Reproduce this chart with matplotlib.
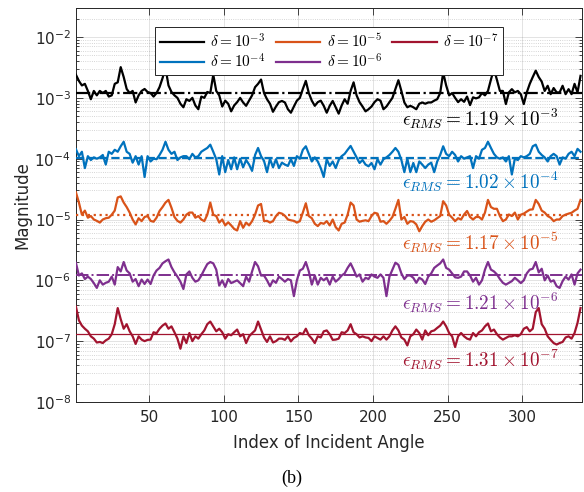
import numpy as np
import matplotlib
matplotlib.use("Agg")
import matplotlib.pyplot as plt
from matplotlib.ticker import LogLocator, NullFormatter, FixedLocator

plt.rcParams['mathtext.fontset'] = 'cm'
plt.rcParams['font.family'] = ['DejaVu Sans']

# ---------------- data ----------------
index = list(range(1, 340, 2))          # incident-angle index (sampled)
deltas = [1e-3, 1e-4, 1e-5, 1e-6, 1e-7]
legend_labels = [r'$\delta = 10^{-3}$', r'$\delta = 10^{-4}$', r'$\delta = 10^{-5}$',
                 r'$\delta = 10^{-6}$', r'$\delta = 10^{-7}$']
rms_values = [1.19e-3, 1.02e-4, 1.17e-5, 1.21e-6, 1.31e-7]
rms_labels = [r'$\epsilon_{RMS} = 1.19\times10^{-3}$', r'$\epsilon_{RMS} = 1.02\times10^{-4}$',
              r'$\epsilon_{RMS} = 1.17\times10^{-5}$', r'$\epsilon_{RMS} = 1.21\times10^{-6}$',
              r'$\epsilon_{RMS} = 1.31\times10^{-7}$']

# magnitudes, expressed in units of the corresponding delta
mag_d3 = [2.4, 1.9, 1.6, 1.7, 1.3, 0.95, 1.3, 1.1, 1.3, 1.2, 1.3, 1.05, 1.1, 1.7, 1.8, 3.2, 2.2, 1.4, 1.2, 1.3,
          0.84, 1.1, 1.3, 1.4, 1.25, 1.2, 1.05, 1.2, 1.5, 2.1, 3.1, 1.6, 1.25, 1.1, 1.0, 0.8, 0.7, 0.95, 0.89, 1.0,
          0.75, 0.65, 1.05, 1.0, 1.25,
          1.2, 2.4, 1.3, 1.1, 0.72, 0.9, 0.8, 0.6, 0.75, 0.85, 1.0, 0.84, 0.74, 0.9, 1.1, 1.5, 1.7, 2.0, 1.2, 0.95,
          0.8, 0.59, 0.72, 0.85, 0.89, 0.84, 0.65, 0.57, 0.72, 0.9, 1.0, 1.4, 1.9, 1.2, 0.9, 0.74, 0.85, 0.9, 0.74,
          0.57, 0.74, 0.89, 0.7, 0.55, 0.75, 0.95, 0.8,
          1.3, 1.8, 1.1, 0.85, 0.72, 0.6, 0.65, 0.72, 0.85, 0.95, 0.9, 0.65, 0.72, 0.85, 1.0, 1.4, 1.95, 1.3, 0.84,
          0.7, 0.74, 0.7, 0.65, 0.8, 0.84, 0.8, 0.84, 0.84, 0.9, 0.95, 1.2, 2.6, 1.6, 1.1, 1.2, 1.0, 0.85,
          0.95, 0.86, 1.05, 0.76, 1.02, 0.98, 1.02, 1.2, 1.1, 1.3, 2.0, 3.0, 1.98, 1.3, 1.3, 0.79, 1.23, 1.39, 1.23,
          1.3, 1.15, 0.79, 1.23, 1.7, 2.2, 2.8, 2.2, 1.85, 1.3, 1.58, 1.15, 1.45, 1.23, 1.23, 1.58, 1.15, 1.39,
          1.15, 1.7, 1.23, 2.3]

mag_d4 = [1.43, 1.1, 1.3, 0.7, 1.1, 0.95, 1.05, 1.0, 1.05, 1.15,
          0.8, 1.3, 1.2, 1.4, 1.3, 1.6, 1.9, 1.3, 1.2, 0.86,
          1.1, 0.8, 1.1, 0.5, 1.1, 0.9, 1.0, 0.98, 1.15, 1.4,
          1.9, 1.4, 1.2, 1.3, 0.95, 1.05, 1.1, 1.1, 0.98, 1.2,
          1.05, 1.1, 1.3, 1.4, 1.5, 1.7, 1.3, 0.98, 0.55, 1.1,
          0.6, 0.95, 0.67, 1.05, 0.67, 1.0, 0.72, 0.95, 0.8, 0.63,
          1.15, 1.5, 1.1, 0.92, 0.6, 1.0, 0.72, 0.98, 0.7, 0.86,
          0.8, 0.76, 0.98, 0.76, 1.1, 1.0,
          1.4, 1.6, 1.2, 0.9, 1.05, 0.9, 0.7, 0.5, 0.98, 0.76,
          0.9, 0.7, 0.95, 1.1, 1.2, 1.4, 1.62, 1.3, 1.05, 0.85,
          0.95, 0.8, 0.75, 0.85, 0.67, 0.98, 0.8, 0.98, 1.05, 1.15,
          1.3, 1.5, 1.3, 0.95, 0.6, 1.0, 0.6, 0.85, 0.6, 0.9,
          0.8, 0.7, 0.8, 0.86, 0.6, 0.9, 1.15, 1.6, 1.2, 1.1,
          1.3, 1.15, 0.9, 1.1, 1.0, 1.05, 1.1, 0.7, 1.1, 1.0,
          1.4, 1.5, 1.9, 1.5, 1.2, 1.05, 1.0, 1.05, 0.9, 1.1,
          0.55, 1.0, 0.95, 1.1, 1.05, 1.1, 1.2, 1.6, 1.7, 1.3,
          1.15, 1.05, 0.9, 1.1, 1.2, 1.1, 0.8, 1.05, 1.0, 1.2,
          1.3, 1.1, 1.45, 1.3]

mag_d5 = [2.8, 1.9, 1.2, 1.4, 1.07, 1.14, 1.0, 0.95, 0.89, 1.0,
          1.05, 1.07, 1.2, 1.4, 2.3, 2.4, 1.9, 1.6, 1.3, 1.0,
          0.83, 1.05, 0.94, 1.1, 1.14, 0.95, 0.92, 1.07, 1.38, 1.6,
          1.9, 2.1, 1.56, 1.1, 0.95, 0.89, 1.0, 1.2, 1.3, 1.3,
          1.07, 1.14, 1.0, 0.94, 1.2, 1.9, 1.2, 1.14, 0.89, 1.0,
          0.8, 0.9, 0.8, 0.7, 0.66, 0.94, 0.73, 0.89, 0.8, 0.94,
          1.2, 1.7, 1.8, 0.94, 0.95, 0.89, 0.94, 1.14, 1.29, 1.25,
          1.15, 1.0, 0.97, 0.95, 0.89,
          0.94, 1.3, 1.85, 1.14, 1.05, 0.85, 0.78, 0.88, 0.85, 0.94,
          0.8, 1.0, 0.75, 0.66, 0.85, 0.89, 1.2, 1.9, 1.7, 1.0,
          0.92, 0.95, 0.97, 0.94, 1.14, 1.29, 1.25, 0.92, 0.94, 0.85,
          0.95, 1.1, 1.5, 2.1, 1.0, 1.1, 0.85, 0.94, 0.92, 0.83,
          0.64, 0.78, 0.92, 1.0, 0.92, 0.97, 1.05, 1.14, 2.0, 1.7,
          1.2, 1.07, 0.94, 1.05, 1.0, 1.21, 1.38, 1.1, 1.0, 1.1,
          1.1, 1.0, 1.3, 2.1, 1.6, 1.5, 1.5, 1.14, 0.94, 1.0,
          1.21, 1.14, 1.3, 1.0, 1.2, 1.25, 1.35, 1.45, 1.47, 2.1,
          1.8, 1.4, 1.3, 1.14, 1.07, 0.94, 1.0, 1.0, 1.14, 1.2,
          1.25, 1.29, 1.4, 1.5, 2.1]

mag_d6 = [1.94, 1.2, 1.3, 1.05, 1.15, 1.05, 0.9, 0.75, 1.0, 0.85,
          0.91, 0.95, 1.15, 0.85, 1.65, 1.4, 2.0, 1.45, 1.3, 0.95,
          1.05, 0.8, 1.03, 0.87, 1.03, 0.87, 1.2, 1.45, 1.6, 1.9,
          2.06, 2.2, 1.65, 1.35, 1.15, 0.95, 0.72, 1.25, 1.4, 1.1,
          0.95, 1.0, 1.2, 1.5, 1.85, 2.0, 1.9, 1.5, 0.82, 1.0,
          0.78, 1.05, 0.9, 0.95, 1.0, 0.9, 0.8, 1.15, 0.95, 1.4,
          2.0, 1.7, 1.2, 1.2, 1.0, 0.8, 1.0, 0.91, 1.15, 1.05,
          0.95, 1.05, 1.0, 0.55, 1.0,
          1.45, 1.55, 2.0, 1.4, 0.85, 1.2, 0.85, 1.1, 1.0, 1.1,
          0.85, 1.15, 0.95, 1.05, 1.2, 1.3, 1.6, 1.9, 1.5, 1.15,
          1.25, 0.95, 1.1, 1.05, 1.25, 1.15, 1.1, 1.25, 1.1, 0.55,
          1.15, 1.5, 1.95, 1.8, 1.3, 1.05, 1.2, 1.2, 1.1, 0.91,
          1.1, 1.03, 0.87, 1.15, 1.3, 1.6, 1.75, 1.9, 2.2, 1.6,
          1.5, 1.3, 1.12, 1.1, 1.15, 1.4, 1.4, 1.2, 0.95, 1.1,
          0.85, 1.0, 1.5, 2.0, 1.5, 1.4, 1.25, 1.05, 0.91, 0.85,
          0.91, 0.97, 1.1, 1.0, 0.9, 1.0, 1.3, 1.5, 1.55, 2.0,
          1.35, 1.55, 1.0, 1.2, 0.95, 1.0, 0.8, 0.75, 0.97, 1.15,
          1.03, 1.25, 0.85, 1.3, 1.5]

mag_d7 = [3.7, 2.2, 1.8, 1.6, 1.45, 1.2, 1.1, 0.95, 0.97, 0.93,
          1.03, 1.1, 1.3, 1.9, 3.5, 2.3, 1.6, 1.9, 1.45, 1.2,
          0.9, 1.2, 1.06, 1.0, 1.05, 1.06, 1.4, 1.35, 1.6, 1.8,
          1.95, 1.6, 1.75, 1.4, 1.1, 0.75, 1.2, 0.93, 1.36, 1.0,
          1.2, 1.1, 1.3, 1.5, 1.9, 2.1, 1.75, 1.45, 1.6, 1.4,
          1.1, 1.3, 1.25, 1.4, 1.55, 1.2, 1.3, 0.93, 1.2, 1.35,
          1.5, 2.1, 1.55, 1.15, 0.97, 1.2, 0.95, 1.0, 1.1, 1.1,
          1.05, 1.2, 0.99, 1.13, 1.2,
          1.36, 1.3, 1.6, 1.25, 1.1, 0.93, 1.2, 1.15, 1.45, 1.5,
          1.3, 1.05, 1.06, 1.1, 1.4, 1.36, 1.5, 1.9, 1.4, 1.3,
          1.15, 1.2, 1.15, 1.13, 1.0, 1.2, 1.13, 1.06, 1.2, 1.06,
          1.2, 1.5, 1.75, 1.5, 1.15, 1.06, 0.85, 1.2, 1.3, 1.55,
          1.36, 1.06, 1.5, 1.25, 1.45, 1.5, 1.65, 1.8, 2.1, 1.75,
          1.36, 1.2, 0.8, 1.2, 1.36, 1.2, 1.1, 1.06, 1.36, 1.2,
          1.4, 1.5, 1.75, 1.95, 1.45, 1.55, 1.3, 1.15, 1.06, 1.13,
          1.2, 1.2, 1.25, 1.2, 1.3, 1.6, 1.7, 1.45, 1.6, 3.0,
          3.5, 1.9, 1.6, 1.2, 1.05, 0.93, 0.88, 0.93, 0.97, 1.15,
          1.2, 1.1, 1.36, 2.0, 3.5]

series = [mag_d3, mag_d4, mag_d5, mag_d6, mag_d7]

# ---------------- style ----------------
colors = ['#000000', '#0072BD', '#D95319', '#7E2F8E', '#A2142F']
mean_styles = ['-.', '--', ':', '-.', '-']
mean_widths = [1.6, 1.6, 1.6, 1.4, 0.9]
text_x = 219.5
text_y = [4.5e-4, 4.1e-5, 4.2e-6, 4.3e-7, 4.9e-8]
axis_gray = '#262626'

fig = plt.figure(figsize=(5.84, 4.92), dpi=100)
ax = fig.add_axes([0.130, 0.183, 0.8666, 0.8007])

handles = []
for vals, d, c, lab in zip(series, deltas, colors, legend_labels):
    y = np.array(vals) * d
    h, = ax.plot(index, y, color=c, lw=1.6, label=lab, zorder=3)
    handles.append(h)
for r, c, ls, lw in zip(rms_values, colors, mean_styles, mean_widths):
    ax.axhline(r, color=c, ls=ls, lw=lw, zorder=4)
for ty, c, s in zip(text_y, colors, rms_labels):
    ax.text(text_x, ty, s, color=c, fontsize=13.8, va='center', ha='left', zorder=5)

ax.set_yscale('log')
ax.set_xlim(1, 340)
ax.set_ylim(1e-8, 3e-2)
ax.set_xticks([50, 100, 150, 200, 250, 300])
ax.yaxis.set_major_locator(FixedLocator([1e-8, 1e-7, 1e-6, 1e-5, 1e-4, 1e-3, 1e-2]))
ax.yaxis.set_minor_locator(LogLocator(base=10, subs=np.arange(2, 10), numticks=20))
ax.yaxis.set_minor_formatter(NullFormatter())

ax.tick_params(which='both', direction='in', top=True, right=True, colors=axis_gray,
               labelsize=11, width=0.6)
ax.tick_params(which='major', length=5)
ax.tick_params(which='minor', length=2.5)
ax.tick_params(axis='x', pad=6)
for sp in ax.spines.values():
    sp.set_color(axis_gray)
    sp.set_linewidth(0.7)

ax.grid(which='major', color=axis_gray, alpha=0.15, lw=0.6)
ax.yaxis.grid(which='minor', color=axis_gray, alpha=0.25, lw=0.6, ls=':')
ax.set_axisbelow(True)

ax.set_xlabel('Index of Incident Angle', fontsize=12, color=axis_gray, labelpad=6)
ax.set_ylabel('Magnitude', fontsize=12, color=axis_gray, labelpad=2)

leg = ax.legend(handles=handles, ncol=3, loc='upper center', bbox_to_anchor=(0.5, 0.97),
                fontsize=11, handlelength=2.9, handletextpad=0.4, columnspacing=0.7,
                borderpad=0.3, labelspacing=0.15, fancybox=False, framealpha=1)
leg.get_frame().set_edgecolor(axis_gray)
leg.get_frame().set_linewidth(0.7)
leg.set_zorder(10)

fig.text(0.5, 1 - 478 / 492, '(b)', ha='center', va='center', fontsize=13,
         family=['Liberation Serif', 'DejaVu Serif'])

fig.savefig('out.png', dpi=100)
